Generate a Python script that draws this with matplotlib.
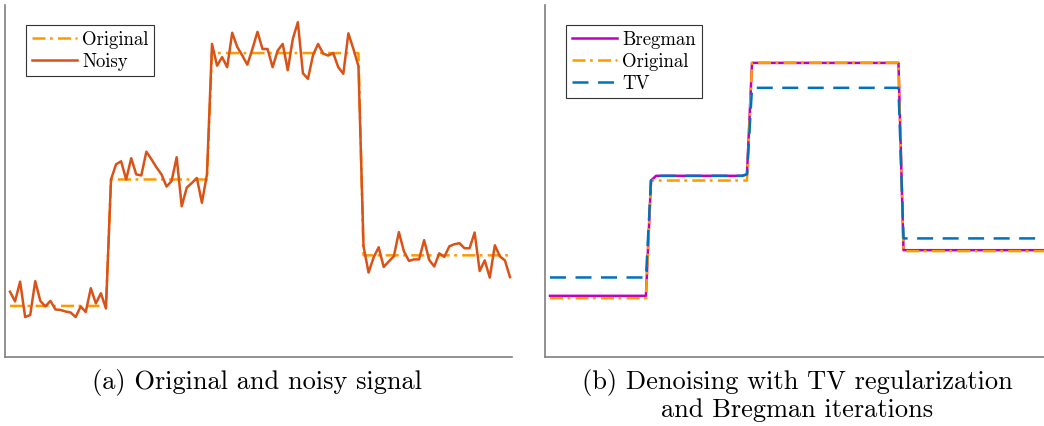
import matplotlib
matplotlib.use('Agg')
import matplotlib.pyplot as plt
import numpy as np

plt.rcParams['font.family'] = ['cmr10', 'DejaVu Serif']
plt.rcParams['axes.formatter.use_mathtext'] = True

# sample index of the signal
n = np.arange(100)

# piecewise-constant original signal (levels, run lengths)
orig_levels = [0.0, 2.5, 5.0, 1.0]
orig_lengths = [20, 20, 30, 30]

# noisy signal
noisy = [0.28, 0.09, 0.48, -0.22, -0.18, 0.49, 0.10, -0.01, 0.10, -0.07,
         -0.08, -0.11, -0.13, -0.22, -0.01, -0.12, 0.35, 0.05, 0.25, -0.05,
         2.50, 2.80, 2.86, 2.50, 2.92, 2.60, 2.58, 3.05, 2.90, 2.74,
         2.60, 2.36, 2.47, 2.94, 1.97, 2.34, 2.43, 2.53, 2.04, 2.60,
         5.18, 4.75, 4.92, 4.72, 5.40, 5.12, 4.95, 4.77, 5.08, 5.42,
         5.08, 5.08, 4.72, 5.05, 5.18, 4.66, 5.28, 5.61, 4.60, 4.49,
         4.96, 5.18, 4.99, 4.95, 5.00, 4.72, 4.59, 5.39, 5.08, 4.74,
         1.18, 0.66, 0.96, 1.16, 0.77, 0.88, 0.98, 1.46, 1.08, 0.89,
         0.92, 0.92, 1.30, 0.91, 0.78, 1.04, 0.97, 1.18, 1.22, 1.24,
         1.14, 1.14, 1.45, 0.69, 0.90, 0.56, 1.20, 0.98, 0.90, 0.57]

# reconstructions in panel (b)
breg_levels = [0.05, 2.5, 2.6, 2.63, 5.0, 1.02]
breg_lengths = [20, 1, 18, 1, 30, 30]
tv_levels = [0.44, 2.5, 2.6, 2.63, 4.47, 1.27]
tv_lengths = [20, 1, 18, 1, 30, 30]

original = np.repeat(orig_levels, orig_lengths)
bregman = np.repeat(breg_levels, breg_lengths)
tv = np.repeat(tv_levels, tv_lengths)

c_orig = '#FF9900'
c_noisy = '#D95319'
c_breg = '#BF00BF'
c_tv = '#0072BD'
lw = 1.8
dashdot = (5.2, 1.8, 1.1, 2.1)
dashed = (6.4, 3.8)

fig = plt.figure(figsize=(10.44, 4.26), dpi=100)
ax1 = fig.add_axes([5 / 1044, 1 - 357 / 426, 507 / 1044, 352 / 426])
ax2 = fig.add_axes([545 / 1044, 1 - 357 / 426, 507 / 1044, 352 / 426])

ax1.plot(n, original, color=c_orig, lw=lw, dashes=dashdot, label='Original')
ax1.plot(n, noisy, color=c_noisy, lw=lw, label='Noisy')
ax1.set_xlim(-0.99, 99.4)
ax1.set_ylim(-1.01, 5.95)

ax2.plot(n, bregman, color=c_breg, lw=lw, label='Bregman')
ax2.plot(n, original, color=c_orig, lw=lw, dashes=dashdot, label='Original')
ax2.plot(n, tv, color=c_tv, lw=lw, dashes=dashed, label='TV')
ax2.set_xlim(-0.99, 99.4)
ax2.set_ylim(-1.25, 6.23)

for ax in (ax1, ax2):
    for s in ('top', 'right'):
        ax.spines[s].set_visible(False)
    for s in ('left', 'bottom'):
        ax.spines[s].set_color('#7f7f7f')
        ax.spines[s].set_linewidth(1.2)
    ax.set_xticks([])
    ax.set_yticks([])
    leg = ax.legend(loc='upper left', bbox_to_anchor=(21 / 507, 1 - 20 / 352),
                    borderaxespad=0, fancybox=False, framealpha=1,
                    edgecolor='#333333', fontsize=13.5, handlelength=2.4,
                    handletextpad=0.3, labelspacing=0.22, borderpad=0.3)
    leg.get_frame().set_linewidth(0.8)

fig.text(257 / 1044, 1 - 382 / 426, '(a) Original and noisy signal',
         ha='center', va='center', fontsize=19)
fig.text(797 / 1044, 1 - 382 / 426, '(b) Denoising with TV regularization',
         ha='center', va='center', fontsize=19)
fig.text(797 / 1044, 1 - 410 / 426, 'and Bregman iterations',
         ha='center', va='center', fontsize=19)

fig.savefig('out.png', dpi=100)
